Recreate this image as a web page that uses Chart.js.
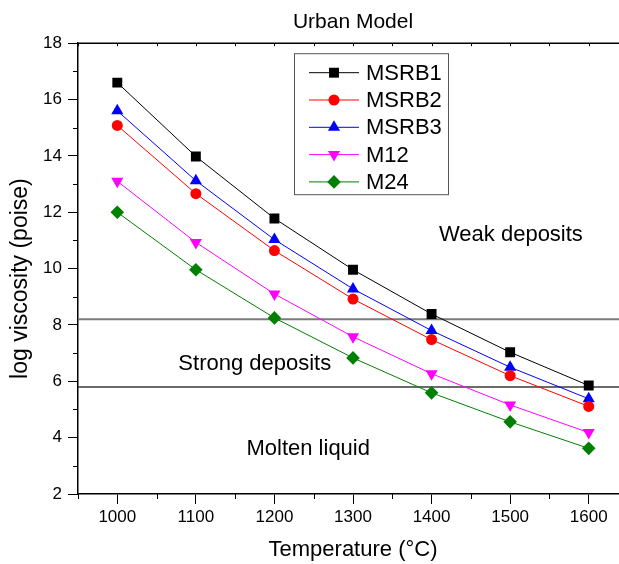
<!DOCTYPE html>
<html>
<head>
<meta charset="utf-8">
<title>Urban Model</title>
<script src="https://cdn.jsdelivr.net/npm/chart.js@4.4.1/dist/chart.umd.min.js"></script>
<style>
  html, body { margin: 0; padding: 0; background: #fff; overflow: hidden; }
  #wrap { width: 640px; height: 564px; }
</style>
</head>
<body>
<div id="wrap"><canvas id="viscosityChart" width="640" height="564"></canvas></div>
<script>
// temperature (°C)
var temps = [1000, 1100, 1200, 1300, 1400, 1500, 1600];

// log viscosity (poise) per sample
var msrb1 = [16.6, 13.98, 11.78, 9.96, 8.39, 7.03, 5.85];
var msrb2 = [15.08, 12.66, 10.64, 8.92, 7.48, 6.2, 5.11];
var msrb3 = [15.6, 13.12, 11.03, 9.28, 7.8, 6.5, 5.38];
var m12 = [13.1, 10.93, 9.1, 7.58, 6.27, 5.16, 4.18];
var m24 = [12.0, 9.96, 8.25, 6.83, 5.59, 4.56, 3.62];

var seriesNames = ['MSRB1', 'MSRB2', 'MSRB3', 'M12', 'M24'];

// boundaries between regions
var limitLines = [8.2, 5.8];
var regionNames = ['Weak deposits', 'Strong deposits', 'Molten liquid'];

// axis ticks
var xTicks = [1000, 1100, 1200, 1300, 1400, 1500, 1600];
var xMinorTicks = [950, 1050, 1150, 1250, 1350, 1450, 1550, 1650];
var yTicks = [2, 4, 6, 8, 10, 12, 14, 16, 18];
var yMinorTicks = [3, 5, 7, 9, 11, 13, 15, 17];

var FONT = 'Arial, "Liberation Sans", sans-serif';
Chart.defaults.font.family = FONT;
Chart.defaults.color = '#000';

function toPoints(values) {
    return temps.map(function (t, i) { return { x: t, y: values[i] }; });
}

// marker style of each series
var styles = [
    { color: '#000000', pointStyle: 'rect', radius: 7, rotation: 0 },
    { color: '#ff0000', pointStyle: 'circle', radius: 5.5, rotation: 0 },
    { color: '#0000ff', pointStyle: 'triangle', radius: 7, rotation: 0 },
    { color: '#ff00ff', pointStyle: 'triangle', radius: 7, rotation: 180 },
    { color: '#008000', pointStyle: 'rectRot', radius: 6.8, rotation: 0 }
];

var allSeries = [msrb1, msrb2, msrb3, m12, m24];
var datasets = allSeries.map(function (vals, i) {
    var s = styles[i];
    return {
        label: seriesNames[i],
        data: toPoints(vals),
        borderColor: s.color,
        backgroundColor: s.color,
        borderWidth: 1,
        pointStyle: s.pointStyle,
        pointRotation: s.rotation,
        pointRadius: s.radius,
        pointBorderWidth: 0,
        pointBackgroundColor: s.color,
        tension: 0,
        order: i
    };
});

// horizontal region limits
var limitColors = ['#7a7a7a', '#3a3a3a'];
var limitWidths = [2, 1.5];
limitLines.forEach(function (v, i) {
    datasets.push({
        label: 'limit' + i,
        data: [{ x: 950, y: v }, { x: 1650, y: v }],
        borderColor: limitColors[i],
        borderWidth: limitWidths[i],
        pointRadius: 0,
        order: 10
    });
});

function marker(ctx, s, x, y) {
    ctx.fillStyle = s.color;
    ctx.strokeStyle = s.color;
    Chart.helpers.drawPoint(ctx, { pointStyle: s.pointStyle, rotation: s.rotation, radius: s.radius, borderWidth: 0 }, x, y);
}

// box, minor ticks, y title, region texts, legend
var framePlugin = {
    id: 'frame',
    afterDraw: function (chart) {
        var ctx = chart.ctx, a = chart.chartArea;
        var xs = chart.scales.x, ys = chart.scales.y;
        ctx.save();

        ctx.strokeStyle = '#000';
        ctx.lineWidth = 1.5;
        ctx.beginPath();
        ctx.moveTo(a.left, a.top);
        ctx.lineTo(a.right, a.top);
        ctx.lineTo(a.right, a.bottom);
        ctx.stroke();

        ctx.lineWidth = 1;
        ctx.beginPath();
        yMinorTicks.forEach(function (v) {
            var p = Math.round(ys.getPixelForValue(v)) + 0.5;
            ctx.moveTo(a.left - 5, p); ctx.lineTo(a.left, p);
        });
        xMinorTicks.forEach(function (v) {
            var p = Math.round(xs.getPixelForValue(v)) + 0.5;
            ctx.moveTo(p, a.bottom); ctx.lineTo(p, a.bottom + 5);
        });
        xTicks.concat(xMinorTicks).forEach(function (v) {
            var p = Math.round(xs.getPixelForValue(v)) + 0.5;
            ctx.moveTo(p, a.top); ctx.lineTo(p, a.top + 3);
        });
        ctx.stroke();

        // y title
        ctx.fillStyle = '#000';
        ctx.font = '23px ' + FONT;
        ctx.textAlign = 'center';
        ctx.textBaseline = 'middle';
        ctx.save();
        ctx.translate(21, (a.top + a.bottom) / 2 + 10);
        ctx.rotate(-Math.PI / 2);
        ctx.fillText('log viscosity (poise)', 0, 0);
        ctx.restore();

        // region names
        var notes = [[1501, 11.2], [1175, 6.6], [1243, 3.61]];
        ctx.font = '22px ' + FONT;
        regionNames.forEach(function (name, i) {
            ctx.fillText(name, xs.getPixelForValue(notes[i][0]), ys.getPixelForValue(notes[i][1]));
        });

        // legend
        var bx = a.left + 216, by = a.top + 10, bw = 154, bh = 141;
        ctx.strokeStyle = '#555';
        ctx.lineWidth = 1;
        ctx.strokeRect(bx + 0.5, by + 0.5, bw, bh);
        ctx.textAlign = 'left';
        ctx.font = '22px ' + FONT;
        seriesNames.forEach(function (name, i) {
            var y = by + 19.5 + i * 27.3;
            var s = styles[i];
            ctx.strokeStyle = s.color;
            ctx.lineWidth = 1;
            ctx.beginPath();
            ctx.moveTo(bx + 15, y); ctx.lineTo(bx + 65, y);
            ctx.stroke();
            marker(ctx, s, bx + 40, y);
            ctx.fillStyle = '#000';
            ctx.fillText(name, bx + 72, y + 1);
        });

        ctx.restore();
    }
};

new Chart(document.getElementById('viscosityChart'), {
    type: 'line',
    data: { datasets: datasets },
    options: {
        responsive: false,
        animation: false,
        layout: { padding: { left: 0, right: 12, top: 0, bottom: 0 } },
        plugins: {
            legend: { display: false },
            tooltip: { enabled: false },
            title: {
                display: true,
                text: 'Urban Model',
                fullSize: false,
                color: '#000',
                font: { size: 21, weight: 'normal' },
                padding: { top: 10, bottom: 8 }
            }
        },
        scales: {
            x: {
                type: 'linear',
                min: 950,
                max: 1650,
                afterBuildTicks: function (s) { s.ticks = xTicks.map(function (v) { return { value: v }; }); },
                afterFit: function (s) { s.height = 70; },
                grid: { drawOnChartArea: false, tickLength: 10, tickColor: '#000', tickWidth: 1 },
                border: { color: '#000', width: 1.5 },
                ticks: { font: { size: 17 }, padding: 3, maxRotation: 0, autoSkip: false, callback: function (v) { return String(v); } },
                title: { display: true, text: 'Temperature (°C)', font: { size: 22 }, padding: { top: 0, bottom: 1 } }
            },
            y: {
                min: 2,
                max: 18,
                afterBuildTicks: function (s) { s.ticks = yTicks.map(function (v) { return { value: v }; }); },
                afterFit: function (s) { s.width = 78; },
                grid: { drawOnChartArea: false, tickLength: 10, tickColor: '#000', tickWidth: 1 },
                border: { color: '#000', width: 1.5 },
                ticks: { font: { size: 17 }, padding: 6, autoSkip: false, callback: function (v) { return String(v); } }
            }
        }
    },
    plugins: [framePlugin]
});
</script>
</body>
</html>
